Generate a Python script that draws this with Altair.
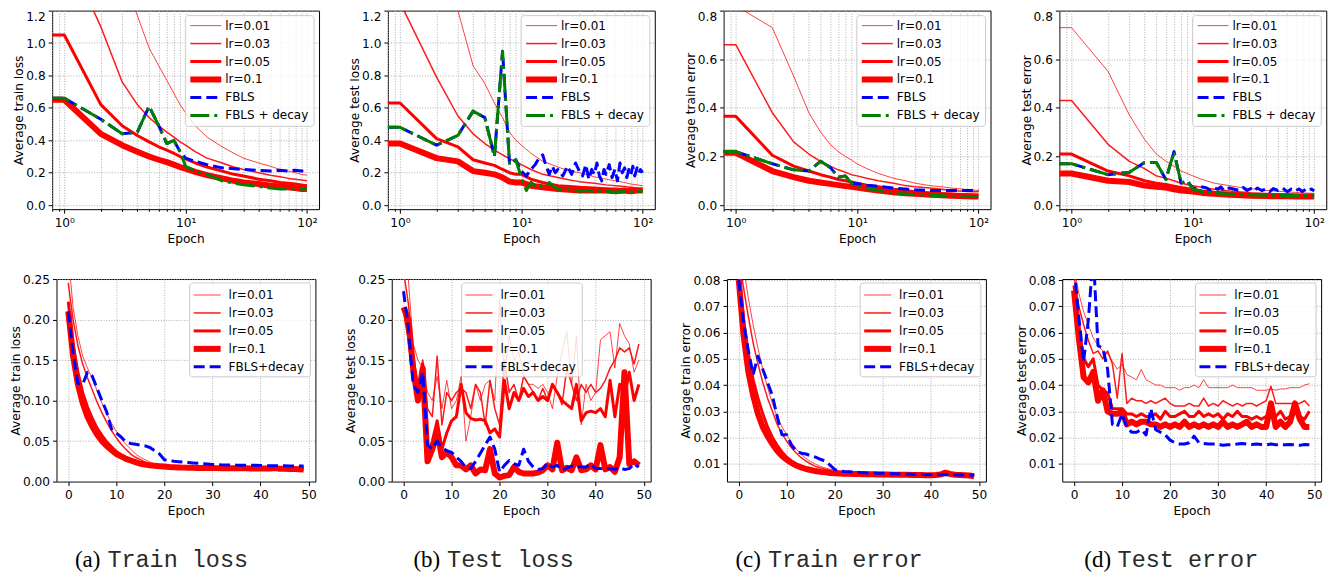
import altair as alt
import pandas as pd

FONT = "DejaVu Sans"
RED = "#ff0000"
BLUE = "#0000ff"
GREEN = "#008000"

# ---------------- x positions ----------------
EPOCHS_TOP = [0, 1, 2, 3, 4, 5, 6, 7, 8, 9, 10, 12, 15, 20, 25, 30, 40, 50, 60, 70, 80, 90, 100]
EPOCHS_B_FBLS = [0, 1, 2, 3, 4, 5, 6, 7, 8, 9, 10, 11, 12, 13, 14, 15, 16, 17, 18, 19, 20,
                 22, 24, 26, 28, 30, 32, 34, 36, 38, 40, 42, 44, 46, 48, 50,
                 53, 56, 59, 62, 65, 68, 71, 74, 77, 80, 83, 86, 90, 93, 96, 100]
EPOCHS_B_DECAY = [0, 1, 2, 3, 4, 5, 6, 7, 8, 9, 10, 11, 12, 13, 14, 15, 16, 17, 18, 19, 20,
                  22, 25, 28, 30, 35, 40, 50, 60, 70, 80, 90, 100]
EPOCHS_D_FBLS = [0, 1, 2, 3, 4, 5, 6, 7, 8, 9, 10, 11, 12, 13, 14, 15, 16, 17, 18, 19, 20,
                 22, 24, 26, 28, 30, 32, 34, 37, 40, 43, 46, 50, 55, 60, 65, 70, 75, 80, 85, 90, 95, 100]
EPOCHS_BOTTOM = list(range(50))

TOP_XTICKS = [0.8, 0.9, 1, 2, 3, 4, 5, 6, 7, 8, 9, 10, 20, 30, 40, 50, 60, 70, 80, 90, 100]
BOTTOM_XTICKS = [0, 10, 20, 30, 40, 50]
LOSS_TOP_YTICKS = [0.0, 0.2, 0.4, 0.6, 0.8, 1.0, 1.2]
ERR_TOP_YTICKS = [0.0, 0.2, 0.4, 0.6, 0.8]
LOSS_BOTTOM_YTICKS = [0.0, 0.05, 0.10, 0.15, 0.20, 0.25]
ERR_BOTTOM_YTICKS = [0.01, 0.02, 0.03, 0.04, 0.05, 0.06, 0.07, 0.08]

# ---------------- (a) train loss, log epochs ----------------
A_LR001 = [2.3, 2.3, 1.9, 1.45, 1.17, 0.97, 0.86, 0.77, 0.69, 0.62, 0.57, 0.49, 0.42, 0.36, 0.32, 0.29, 0.26, 0.24, 0.22, 0.21, 0.20, 0.19, 0.185]
A_LR003 = [1.6, 1.6, 1.1, 0.76, 0.62, 0.54, 0.49, 0.45, 0.42, 0.39, 0.37, 0.33, 0.29, 0.26, 0.235, 0.22, 0.20, 0.185, 0.175, 0.165, 0.16, 0.155, 0.15]
A_LR005 = [1.05, 1.05, 0.62, 0.49, 0.43, 0.39, 0.36, 0.34, 0.32, 0.30, 0.285, 0.26, 0.235, 0.21, 0.19, 0.18, 0.16, 0.15, 0.14, 0.135, 0.13, 0.125, 0.12]
A_LR01 = [0.65, 0.65, 0.44, 0.37, 0.33, 0.30, 0.28, 0.265, 0.25, 0.235, 0.225, 0.205, 0.185, 0.165, 0.15, 0.14, 0.13, 0.12, 0.115, 0.11, 0.105, 0.10, 0.10]
A_FBLS = [0.66, 0.66, 0.53, 0.44, 0.45, 0.61, 0.49, 0.38, 0.40, 0.33, 0.29, 0.27, 0.25, 0.23, 0.225, 0.22, 0.215, 0.21, 0.215, 0.21, 0.215, 0.21, 0.215]
A_DECAY = [0.66, 0.66, 0.53, 0.44, 0.45, 0.61, 0.49, 0.38, 0.40, 0.33, 0.24, 0.21, 0.19, 0.15, 0.135, 0.125, 0.115, 0.105, 0.10, 0.10, 0.10, 0.10, 0.10]

# ---------------- (b) test loss, log epochs ----------------
B_LR001 = [2.5, 2.5, 1.7, 1.2, 0.86, 0.75, 0.63, 0.54, 0.45, 0.40, 0.37, 0.32, 0.27, 0.235, 0.21, 0.20, 0.175, 0.16, 0.15, 0.14, 0.13, 0.125, 0.12]
B_LR003 = [1.25, 1.25, 0.79, 0.55, 0.44, 0.38, 0.34, 0.31, 0.285, 0.27, 0.25, 0.22, 0.19, 0.17, 0.155, 0.145, 0.135, 0.125, 0.12, 0.115, 0.11, 0.105, 0.10]
B_LR005 = [0.63, 0.63, 0.41, 0.36, 0.28, 0.26, 0.245, 0.22, 0.20, 0.19, 0.19, 0.16, 0.14, 0.12, 0.115, 0.11, 0.105, 0.10, 0.10, 0.095, 0.10, 0.095, 0.10]
B_LR01 = [0.38, 0.38, 0.29, 0.27, 0.21, 0.20, 0.19, 0.17, 0.145, 0.14, 0.14, 0.12, 0.11, 0.10, 0.095, 0.09, 0.09, 0.09, 0.085, 0.09, 0.085, 0.09, 0.09]
B_FBLS = [0.48, 0.48, 0.37, 0.43, 0.58, 0.54, 0.30, 0.95, 0.25, 0.28, 0.21,
          0.18, 0.22, 0.25, 0.29, 0.31, 0.24, 0.19, 0.24, 0.20, 0.22,
          0.18, 0.24, 0.19, 0.26, 0.21, 0.18, 0.25, 0.16, 0.22, 0.19, 0.26, 0.18, 0.15, 0.22, 0.19,
          0.25, 0.17, 0.22, 0.15, 0.26, 0.20, 0.23, 0.17, 0.22, 0.19, 0.24, 0.18,
          0.23, 0.20, 0.22, 0.20]
B_DECAY = [0.48, 0.48, 0.37, 0.43, 0.58, 0.54, 0.30, 0.95, 0.25, 0.28, 0.17,
           0.09, 0.14, 0.12, 0.13, 0.11, 0.12, 0.14, 0.12, 0.11, 0.10,
           0.09, 0.10, 0.09, 0.085, 0.09, 0.085, 0.085, 0.08, 0.085, 0.08, 0.085, 0.085]

# ---------------- (c) train error, log epochs ----------------
C_LR001 = [0.82, 0.82, 0.73, 0.53, 0.38, 0.30, 0.25, 0.22, 0.20, 0.185, 0.17, 0.15, 0.13, 0.11, 0.10, 0.09, 0.08, 0.075, 0.07, 0.067, 0.064, 0.062, 0.06]
C_LR003 = [0.66, 0.66, 0.38, 0.26, 0.21, 0.18, 0.16, 0.145, 0.135, 0.125, 0.12, 0.11, 0.10, 0.09, 0.08, 0.075, 0.07, 0.065, 0.06, 0.058, 0.056, 0.055, 0.055]
C_LR005 = [0.365, 0.365, 0.205, 0.16, 0.14, 0.125, 0.115, 0.105, 0.10, 0.095, 0.09, 0.082, 0.075, 0.065, 0.06, 0.055, 0.05, 0.047, 0.045, 0.043, 0.042, 0.041, 0.04]
C_LR01 = [0.215, 0.215, 0.14, 0.115, 0.10, 0.093, 0.087, 0.082, 0.078, 0.075, 0.072, 0.066, 0.06, 0.053, 0.049, 0.046, 0.042, 0.04, 0.038, 0.037, 0.036, 0.035, 0.035]
C_FBLS = [0.22, 0.22, 0.17, 0.145, 0.14, 0.18, 0.155, 0.115, 0.12, 0.09, 0.088, 0.082, 0.077, 0.07, 0.066, 0.063, 0.06, 0.06, 0.06, 0.06, 0.06, 0.06, 0.06]
C_DECAY = [0.22, 0.22, 0.17, 0.145, 0.14, 0.18, 0.155, 0.115, 0.12, 0.09, 0.075, 0.068, 0.06, 0.048, 0.045, 0.042, 0.04, 0.038, 0.036, 0.035, 0.035, 0.035, 0.035]

# ---------------- (d) test error, log epochs ----------------
D_LR001 = [0.73, 0.73, 0.55, 0.37, 0.27, 0.21, 0.18, 0.16, 0.14, 0.13, 0.12, 0.105, 0.09, 0.08, 0.072, 0.067, 0.06, 0.057, 0.054, 0.052, 0.05, 0.049, 0.048]
D_LR003 = [0.43, 0.43, 0.25, 0.18, 0.15, 0.12, 0.11, 0.10, 0.09, 0.085, 0.08, 0.072, 0.065, 0.058, 0.054, 0.051, 0.048, 0.046, 0.045, 0.044, 0.043, 0.043, 0.042]
D_LR005 = [0.21, 0.21, 0.14, 0.12, 0.10, 0.09, 0.085, 0.078, 0.072, 0.068, 0.065, 0.058, 0.053, 0.048, 0.045, 0.043, 0.041, 0.04, 0.04, 0.039, 0.039, 0.039, 0.039]
D_LR01 = [0.13, 0.13, 0.10, 0.095, 0.08, 0.075, 0.072, 0.065, 0.06, 0.058, 0.056, 0.05, 0.046, 0.042, 0.04, 0.038, 0.037, 0.036, 0.036, 0.035, 0.035, 0.035, 0.035]
D_FBLS = [0.17, 0.17, 0.125, 0.135, 0.175, 0.175, 0.105, 0.22, 0.09, 0.10, 0.07,
          0.068, 0.075, 0.07, 0.06, 0.072, 0.065, 0.075, 0.06, 0.068, 0.07,
          0.065, 0.06, 0.072, 0.06, 0.068, 0.058, 0.07, 0.06, 0.066, 0.055, 0.068,
          0.06, 0.07, 0.055, 0.066, 0.058, 0.066, 0.056, 0.064, 0.058, 0.066, 0.058]
D_DECAY = [0.17, 0.17, 0.125, 0.135, 0.175, 0.175, 0.105, 0.22, 0.09, 0.10, 0.065, 0.055, 0.05, 0.045, 0.043, 0.042, 0.04, 0.04, 0.039, 0.039, 0.039, 0.039, 0.039]

# ---------------- (e) train loss, 50 epochs ----------------
E_LR001 = [0.28, 0.215, 0.18, 0.155, 0.14, 0.127, 0.112, 0.097, 0.084, 0.072,
           0.062, 0.053, 0.046, 0.04, 0.034, 0.03, 0.027, 0.024, 0.022, 0.021,
           0.02, 0.0195, 0.019, 0.019, 0.0185, 0.0185, 0.018, 0.018, 0.018, 0.018,
           0.0178, 0.0178, 0.0177, 0.0177, 0.0176, 0.0176, 0.0175, 0.0175, 0.0174, 0.0173,
           0.0173, 0.0172, 0.0172, 0.0176, 0.0171, 0.017, 0.0168, 0.0167, 0.0165, 0.0163]
E_LR003 = [0.245, 0.2, 0.168, 0.145, 0.128, 0.113, 0.098, 0.085, 0.073, 0.063,
           0.054, 0.046, 0.04, 0.034, 0.03, 0.027, 0.024, 0.022, 0.021, 0.02,
           0.0195, 0.019, 0.0188, 0.0186, 0.0184, 0.0182, 0.018, 0.018, 0.0178, 0.0177,
           0.0176, 0.0176, 0.0175, 0.0175, 0.0174, 0.0174, 0.0173, 0.0173, 0.0172, 0.0172,
           0.0171, 0.017, 0.017, 0.0174, 0.0168, 0.0167, 0.0166, 0.0165, 0.0164, 0.0162]
E_LR005 = [0.222, 0.17, 0.135, 0.11, 0.092, 0.078, 0.066, 0.057, 0.049, 0.043,
           0.037, 0.033, 0.03, 0.027, 0.025, 0.023, 0.022, 0.021, 0.02, 0.0195,
           0.019, 0.0188, 0.0185, 0.0183, 0.018, 0.018, 0.0178, 0.0176, 0.0175, 0.0175,
           0.0174, 0.0173, 0.0172, 0.0172, 0.0171, 0.017, 0.017, 0.0169, 0.0168, 0.0168,
           0.0167, 0.0166, 0.0166, 0.0171, 0.0165, 0.0163, 0.0162, 0.016, 0.0158, 0.0155]
E_LR01 = [0.21, 0.155, 0.12, 0.097, 0.08, 0.068, 0.058, 0.05, 0.044, 0.039,
          0.034, 0.031, 0.028, 0.026, 0.024, 0.022, 0.021, 0.02, 0.0195, 0.019,
          0.0185, 0.018, 0.0178, 0.0175, 0.0172, 0.017, 0.017, 0.0168, 0.0168, 0.0167,
          0.0166, 0.0166, 0.0165, 0.0165, 0.0164, 0.0164, 0.0163, 0.0163, 0.0162, 0.0162,
          0.0161, 0.016, 0.016, 0.0166, 0.0158, 0.0157, 0.0156, 0.0155, 0.0153, 0.015]
E_DECAY = [0.21, 0.16, 0.121, 0.12, 0.135, 0.13, 0.115, 0.1, 0.086, 0.065,
           0.06, 0.055, 0.049, 0.047, 0.046, 0.045, 0.044, 0.042, 0.038, 0.034,
           0.027, 0.026, 0.025, 0.0245, 0.024, 0.0235, 0.023, 0.0225, 0.022, 0.0218,
           0.021, 0.0208, 0.0206, 0.0205, 0.0204, 0.0203, 0.0202, 0.0201, 0.02, 0.02,
           0.0198, 0.0197, 0.0196, 0.0196, 0.0195, 0.0194, 0.0193, 0.0193, 0.0192, 0.0192]

# ---------------- (f) test loss, 50 epochs ----------------
F_LR001 = [0.30, 0.25, 0.17, 0.15, 0.14, 0.11, 0.10, 0.13, 0.09, 0.125,
           0.09, 0.10, 0.13, 0.05, 0.08, 0.12, 0.10, 0.12, 0.125, 0.10,
           0.225, 0.13, 0.18, 0.15, 0.16, 0.13, 0.12, 0.12, 0.115, 0.12,
           0.11, 0.09, 0.13, 0.16, 0.185, 0.12, 0.18, 0.07, 0.12, 0.10,
           0.11, 0.175, 0.18, 0.185, 0.14, 0.195, 0.18, 0.17, 0.135, 0.15]
F_LR003 = [0.26, 0.22, 0.16, 0.12, 0.15, 0.09, 0.08, 0.155, 0.07, 0.11,
           0.10, 0.11, 0.115, 0.11, 0.09, 0.12, 0.11, 0.07, 0.125, 0.09,
           0.07, 0.15, 0.11, 0.12, 0.10, 0.13, 0.12, 0.11, 0.10, 0.115,
           0.10, 0.12, 0.11, 0.095, 0.14, 0.12, 0.10, 0.12, 0.11, 0.12,
           0.11, 0.115, 0.125, 0.14, 0.15, 0.165, 0.16, 0.165, 0.145, 0.17]
F_LR005 = [0.215, 0.18, 0.13, 0.10, 0.145, 0.03, 0.05, 0.075, 0.04, 0.06,
           0.075, 0.08, 0.12, 0.085, 0.078, 0.076, 0.077, 0.075, 0.06, 0.065,
           0.055, 0.125, 0.09, 0.11, 0.10, 0.115, 0.105, 0.11, 0.10, 0.105,
           0.10, 0.12, 0.11, 0.10, 0.095, 0.09, 0.12, 0.075, 0.085, 0.087,
           0.085, 0.09, 0.08, 0.125, 0.08, 0.12, 0.105, 0.135, 0.10, 0.12]
F_LR01 = [0.215, 0.20, 0.14, 0.10, 0.14, 0.025, 0.04, 0.062, 0.03, 0.036,
          0.03, 0.02, 0.02, 0.015, 0.02, 0.01, 0.015, 0.014, 0.04, 0.01,
          0.005, 0.007, 0.008, 0.018, 0.012, 0.01, 0.01, 0.01, 0.011, 0.014,
          0.02, 0.015, 0.048, 0.014, 0.017, 0.014, 0.03, 0.014, 0.015, 0.02,
          0.015, 0.045, 0.015, 0.018, 0.012, 0.03, 0.135, 0.022, 0.025, 0.02]
F_DECAY = [0.235, 0.19, 0.12, 0.11, 0.135, 0.045, 0.04, 0.05, 0.042, 0.038,
           0.036, 0.03, 0.025, 0.017, 0.016, 0.025, 0.035, 0.045, 0.055, 0.04,
           0.012, 0.02, 0.026, 0.022, 0.02, 0.04, 0.025, 0.018, 0.015, 0.016,
           0.023, 0.018, 0.02, 0.014, 0.017, 0.019, 0.019, 0.018, 0.018, 0.022,
           0.016, 0.016, 0.015, 0.016, 0.015, 0.017, 0.015, 0.016, 0.022, 0.018]

# ---------------- (g) train error, 50 epochs ----------------
G_LR001 = [0.095, 0.085, 0.073, 0.063, 0.054, 0.046, 0.039, 0.033, 0.028, 0.024,
           0.021, 0.018, 0.0155, 0.0135, 0.012, 0.0108, 0.0098, 0.009, 0.0084, 0.0079,
           0.0075, 0.0072, 0.007, 0.0068, 0.0067, 0.0066, 0.0065, 0.0064, 0.0064, 0.0063,
           0.0063, 0.0062, 0.0062, 0.0061, 0.0061, 0.006, 0.006, 0.006, 0.0059, 0.0059,
           0.0059, 0.0058, 0.0059, 0.0063, 0.006, 0.0058, 0.0058, 0.0057, 0.0056, 0.0055]
G_LR003 = [0.088, 0.077, 0.066, 0.056, 0.048, 0.041, 0.035, 0.03, 0.025, 0.0215,
           0.0185, 0.016, 0.014, 0.0123, 0.011, 0.0099, 0.009, 0.0084, 0.0079, 0.0075,
           0.0072, 0.007, 0.0068, 0.0067, 0.0066, 0.0065, 0.0064, 0.0063, 0.0063, 0.0062,
           0.0062, 0.0061, 0.0061, 0.006, 0.006, 0.006, 0.0059, 0.0059, 0.0058, 0.0058,
           0.0058, 0.0058, 0.0058, 0.0064, 0.006, 0.0058, 0.0057, 0.0057, 0.0056, 0.0054]
G_LR005 = [0.083, 0.065, 0.052, 0.042, 0.035, 0.029, 0.024, 0.02, 0.017, 0.0145,
           0.0125, 0.011, 0.0098, 0.0089, 0.0082, 0.0077, 0.0073, 0.007, 0.0068, 0.0066,
           0.0065, 0.0064, 0.0063, 0.0062, 0.0061, 0.0061, 0.006, 0.006, 0.006, 0.0059,
           0.0059, 0.0059, 0.0058, 0.0058, 0.0058, 0.0058, 0.0057, 0.0057, 0.0057, 0.0056,
           0.0056, 0.0057, 0.0058, 0.0066, 0.006, 0.0057, 0.0057, 0.0056, 0.0055, 0.0053]
G_LR01 = [0.08, 0.059, 0.045, 0.036, 0.029, 0.024, 0.0205, 0.0175, 0.015, 0.013,
          0.0115, 0.0103, 0.0093, 0.0086, 0.008, 0.0076, 0.0072, 0.0069, 0.0067, 0.0065,
          0.0064, 0.0063, 0.0062, 0.0062, 0.0061, 0.0061, 0.006, 0.006, 0.006, 0.0059,
          0.0059, 0.0059, 0.0058, 0.0058, 0.0058, 0.0058, 0.0057, 0.0057, 0.0057, 0.0056,
          0.0056, 0.0057, 0.0059, 0.0066, 0.0061, 0.0058, 0.0057, 0.0056, 0.0055, 0.0052]
G_DECAY = [0.08, 0.064, 0.053, 0.044, 0.051, 0.046, 0.041, 0.036, 0.028, 0.021,
           0.021, 0.017, 0.0148, 0.014, 0.0137, 0.013, 0.0125, 0.0117, 0.011, 0.0095,
           0.0078, 0.0072, 0.007, 0.0069, 0.0068, 0.0067, 0.0066, 0.0065, 0.0065, 0.0064,
           0.0064, 0.0063, 0.0062, 0.0062, 0.0061, 0.006, 0.006, 0.006, 0.0059, 0.0059,
           0.0058, 0.0058, 0.0058, 0.0058, 0.0058, 0.0058, 0.0057, 0.0057, 0.0056, 0.0056]

# ---------------- (h) test error, 50 epochs ----------------
H_LR001 = [0.085, 0.075, 0.068, 0.063, 0.058, 0.055, 0.053, 0.052, 0.049, 0.046,
           0.048, 0.044, 0.043, 0.042, 0.046, 0.042, 0.041, 0.04, 0.04, 0.039,
           0.039, 0.039, 0.038, 0.039, 0.039, 0.04, 0.039, 0.042, 0.039, 0.039,
           0.039, 0.039, 0.039, 0.04, 0.039, 0.039, 0.039, 0.039, 0.038, 0.038,
           0.038, 0.0385, 0.038, 0.0385, 0.0385, 0.039, 0.039, 0.039, 0.04, 0.0405]
H_LR003 = [0.082, 0.07, 0.063, 0.057, 0.052, 0.053, 0.05, 0.053, 0.048, 0.035,
           0.052, 0.033, 0.035, 0.034, 0.034, 0.033, 0.034, 0.033, 0.034, 0.035,
           0.033, 0.032, 0.032, 0.032, 0.033, 0.032, 0.032, 0.035, 0.032, 0.033,
           0.032, 0.034, 0.033, 0.032, 0.033, 0.032, 0.033, 0.033, 0.032, 0.033,
           0.034, 0.0395, 0.033, 0.033, 0.033, 0.033, 0.033, 0.033, 0.034, 0.032]
H_LR005 = [0.078, 0.062, 0.05, 0.047, 0.05, 0.04, 0.038, 0.037, 0.031, 0.031,
           0.031, 0.029, 0.029, 0.028, 0.029, 0.028, 0.028, 0.029, 0.027, 0.03,
           0.028, 0.028, 0.029, 0.03, 0.028, 0.028, 0.03, 0.028, 0.029, 0.028,
           0.029, 0.027, 0.029, 0.028, 0.03, 0.028, 0.028, 0.027, 0.028, 0.027,
           0.028, 0.03, 0.028, 0.03, 0.027, 0.028, 0.032, 0.028, 0.027, 0.03]
H_LR01 = [0.076, 0.058, 0.043, 0.041, 0.045, 0.034, 0.038, 0.03, 0.029, 0.029,
          0.03, 0.025, 0.026, 0.025, 0.026, 0.026, 0.025, 0.025, 0.024, 0.025,
          0.024, 0.025, 0.024, 0.026, 0.024, 0.025, 0.024, 0.025, 0.024, 0.025,
          0.024, 0.026, 0.024, 0.025, 0.024, 0.025, 0.026, 0.024, 0.025, 0.024,
          0.024, 0.033, 0.024, 0.026, 0.024, 0.026, 0.033, 0.027, 0.024, 0.024]
H_DECAY = [0.085, 0.066, 0.049, 0.065, 0.09, 0.055, 0.054, 0.046, 0.025, 0.024,
           0.029, 0.024, 0.022, 0.022, 0.023, 0.021, 0.031, 0.023, 0.022, 0.021,
           0.019, 0.018, 0.0175, 0.0175, 0.018, 0.0205, 0.018, 0.0177, 0.0175, 0.0175,
           0.0175, 0.017, 0.0172, 0.0172, 0.0175, 0.0177, 0.0175, 0.0173, 0.0175, 0.0173,
           0.0172, 0.0175, 0.0172, 0.0173, 0.0172, 0.0173, 0.0172, 0.017, 0.0173, 0.0172]

# ---------------- styles ----------------
STYLE = {
    "lr=0.01": dict(color=RED, strokeWidth=1.0, opacity=0.75),
    "lr=0.03": dict(color=RED, strokeWidth=1.5, opacity=0.9),
    "lr=0.05": dict(color=RED, strokeWidth=3.0),
    "lr=0.1": dict(color=RED, strokeWidth=6.0),
    "FBLS": dict(color=BLUE, strokeWidth=3.0, strokeDash=[11, 5]),
    "FBLS + decay": dict(color=GREEN, strokeWidth=3.0, strokeDash=[19, 5, 3, 5]),
    "FBLS+decay": dict(color=BLUE, strokeWidth=3.0, strokeDash=[11, 5]),
}

TOP_W, TOP_H = 267.5, 199
BOT_W, BOT_H = 259.5, 203
ONE = pd.DataFrame({"k": [0]})
AXIS_FS = 12.2

LOG_LABEL = "datum.value == 1 ? '10⁰' : datum.value == 10 ? '10¹' : datum.value == 100 ? '10²' : ''"
MAJOR_TEST = "datum.value == 1 || datum.value == 10 || datum.value == 100"


def x_top():
    return alt.X("Epoch:Q",
                 scale=alt.Scale(type="log", domain=[0.794, 125.9], nice=False, zero=False),
                 axis=alt.Axis(values=TOP_XTICKS, labelExpr=LOG_LABEL, title="Epoch", labelFlush=False,
                               tickSize={"condition": {"test": MAJOR_TEST, "value": 4}, "value": 2}))


def x_bottom():
    return alt.X("Epoch:Q", scale=alt.Scale(domain=[-2.45, 51.45], nice=False, zero=False),
                 axis=alt.Axis(values=BOTTOM_XTICKS, format="d", title="Epoch", labelFlush=False))


def y_enc(domain, ticks, fmt, title, flush):
    return alt.Y("value:Q", scale=alt.Scale(domain=domain, nice=False, zero=False),
                 axis=alt.Axis(values=ticks, format=fmt, title=title, labelFlush=flush, titlePadding=0))


def line_layer(epochs, values, name, x, y, log):
    xs = [max(e, 1e-3) for e in epochs] if log else list(epochs)
    df = pd.DataFrame({"Epoch": xs, "value": values})
    return alt.Chart(df).mark_line(clip=True, strokeJoin="round", **STYLE[name]).encode(x=x, y=y)


def legend_layers(names, x0, x1, y0, y1, row0, lx0, lx1, tx):
    layers = [alt.Chart(ONE).mark_rect(fill="white", fillOpacity=0.8, stroke="#cccccc",
                                       strokeWidth=1, cornerRadius=3)
              .encode(x=alt.value(x0), x2=alt.value(x1), y=alt.value(y0), y2=alt.value(y1))]
    for i, n in enumerate(names):
        yy = row0 + 18 * i
        layers.append(alt.Chart(ONE).mark_rule(**STYLE[n])
                      .encode(x=alt.value(lx0), x2=alt.value(lx1), y=alt.value(yy)))
        layers.append(alt.Chart(ONE).mark_text(text=n, align="left", baseline="middle", font=FONT,
                                               fontSize=12, color="black")
                      .encode(x=alt.value(tx), y=alt.value(yy)))
    return layers


def caption_layers(letter, text, xl, xr, ycap=289):
    return [
        alt.Chart(ONE).mark_text(text=letter, align="right", baseline="alphabetic",
                                 font="Liberation Serif", fontSize=23, color="black")
        .encode(x=alt.value(xl), y=alt.value(ycap)),
        alt.Chart(ONE).mark_text(text=text, align="left", baseline="alphabetic",
                                 font="Liberation Mono", fontSize=23.5, color="#2a2a2a")
        .encode(x=alt.value(xr), y=alt.value(ycap)),
    ]


TOP_NAMES = ["lr=0.01", "lr=0.03", "lr=0.05", "lr=0.1", "FBLS", "FBLS + decay"]
BOT_NAMES = ["lr=0.01", "lr=0.03", "lr=0.05", "lr=0.1", "FBLS+decay"]


def top_panel(series, ydomain, yticks, ytitle):
    x = x_top()
    y = y_enc(ydomain, yticks, ".1f", ytitle, True)
    layers = [line_layer(ep, v, n, x, y, True) for ep, v, n in series]
    x0 = TOP_W - 134
    layers += legend_layers(TOP_NAMES, x0, TOP_W - 5, 5, 116, 15, x0 + 5, x0 + 36, x0 + 40)
    return alt.layer(*layers).properties(width=TOP_W, height=TOP_H)


def bottom_panel(series, ydomain, yticks, ytitle, legend_x0, caption):
    x = x_bottom()
    y = y_enc(ydomain, yticks, ".2f", ytitle, False)
    layers = [line_layer(EPOCHS_BOTTOM, v, n, x, y, False) for v, n in series]
    layers += legend_layers(BOT_NAMES, legend_x0, legend_x0 + 121, 4, 98, 16,
                            legend_x0 + 4, legend_x0 + 31, legend_x0 + 39)
    layers += caption_layers(*caption)
    return alt.layer(*layers).properties(width=BOT_W, height=BOT_H)


pa = top_panel([(EPOCHS_TOP, A_LR001, "lr=0.01"), (EPOCHS_TOP, A_LR003, "lr=0.03"),
                (EPOCHS_TOP, A_LR005, "lr=0.05"), (EPOCHS_TOP, A_LR01, "lr=0.1"),
                (EPOCHS_TOP, A_FBLS, "FBLS"), (EPOCHS_TOP, A_DECAY, "FBLS + decay")],
               [-0.025, 1.2], LOSS_TOP_YTICKS, "Average train loss")
pb = top_panel([(EPOCHS_TOP, B_LR001, "lr=0.01"), (EPOCHS_TOP, B_LR003, "lr=0.03"),
                (EPOCHS_TOP, B_LR005, "lr=0.05"), (EPOCHS_TOP, B_LR01, "lr=0.1"),
                (EPOCHS_B_FBLS, B_FBLS, "FBLS"), (EPOCHS_B_DECAY, B_DECAY, "FBLS + decay")],
               [-0.025, 1.2], LOSS_TOP_YTICKS, "Average test loss")
pc = top_panel([(EPOCHS_TOP, C_LR001, "lr=0.01"), (EPOCHS_TOP, C_LR003, "lr=0.03"),
                (EPOCHS_TOP, C_LR005, "lr=0.05"), (EPOCHS_TOP, C_LR01, "lr=0.1"),
                (EPOCHS_TOP, C_FBLS, "FBLS"), (EPOCHS_TOP, C_DECAY, "FBLS + decay")],
               [-0.017, 0.8], ERR_TOP_YTICKS, "Average train error")
pd_ = top_panel([(EPOCHS_TOP, D_LR001, "lr=0.01"), (EPOCHS_TOP, D_LR003, "lr=0.03"),
                 (EPOCHS_TOP, D_LR005, "lr=0.05"), (EPOCHS_TOP, D_LR01, "lr=0.1"),
                 (EPOCHS_D_FBLS, D_FBLS, "FBLS"), (EPOCHS_TOP, D_DECAY, "FBLS + decay")],
                [-0.017, 0.8], ERR_TOP_YTICKS, "Average test error")

pe = bottom_panel([(E_LR001, "lr=0.01"), (E_LR003, "lr=0.03"), (E_LR005, "lr=0.05"),
                   (E_LR01, "lr=0.1"), (E_DECAY, "FBLS+decay")],
                  [0.0, 0.25], LOSS_BOTTOM_YTICKS, "Average train loss", BOT_W - 126,
                  ("(a)", "Train loss", 44, 51))
pf = bottom_panel([(F_LR001, "lr=0.01"), (F_LR003, "lr=0.03"), (F_LR005, "lr=0.05"),
                   (F_LR01, "lr=0.1"), (F_DECAY, "FBLS+decay")],
                  [0.0, 0.25], LOSS_BOTTOM_YTICKS, "Average test loss", 70,
                  ("(b)", "Test loss", 48.5, 55.5))
pg = bottom_panel([(G_LR001, "lr=0.01"), (G_LR003, "lr=0.03"), (G_LR005, "lr=0.05"),
                   (G_LR01, "lr=0.1"), (G_DECAY, "FBLS+decay")],
                  [0.0032, 0.0804], ERR_BOTTOM_YTICKS, "Average train error", BOT_W - 126,
                  ("(c)", "Train error", 34, 41))
ph = bottom_panel([(H_LR001, "lr=0.01"), (H_LR003, "lr=0.03"), (H_LR005, "lr=0.05"),
                   (H_LR01, "lr=0.1"), (H_DECAY, "FBLS+decay")],
                  [0.0032, 0.0804], ERR_BOTTOM_YTICKS, "Average test error", BOT_W - 126,
                  ("(d)", "Test error", 49, 55.5))

top_row = alt.hconcat(pa, pb, pc, pd_, spacing=68.5, bounds="flush")
bottom_row = alt.hconcat(pe, pf, pg, ph, spacing=76, bounds="flush")

chart = (
    alt.vconcat(top_row, bottom_row, spacing=27, center=True)
    .properties(padding={"left": 0, "top": 1, "right": 5, "bottom": 0}, background="white")
    .configure_view(stroke="black", strokeWidth=1)
    .configure_axis(labelFont=FONT, labelFontSize=AXIS_FS, labelColor="black",
                    titleFont=FONT, titleFontSize=AXIS_FS, titleFontWeight="normal", titleColor="black",
                    tickColor="black", tickWidth=1, tickSize=4, domain=False,
                    grid=True, gridColor="#a6a6a6", gridDash=[1, 1.6], gridWidth=0.9,
                    labelPadding=3, titlePadding=4)
)

chart.save("out.html", embed_options={"renderer": "svg", "actions": False})
